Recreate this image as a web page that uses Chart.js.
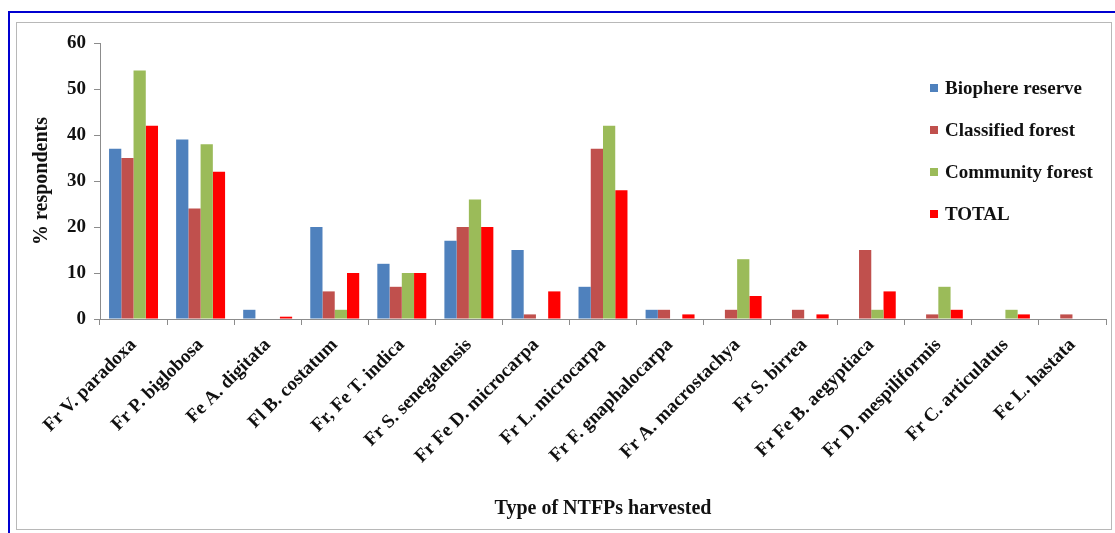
<!DOCTYPE html>
<html>
<head>
<meta charset="utf-8">
<script src="https://cdn.jsdelivr.net/npm/chart.js@4.4.1/dist/chart.umd.min.js"></script>
<style>
  html, body { margin: 0; padding: 0; background: #fff; }
  #wrap { position: relative; width: 1115px; height: 533px; overflow: hidden; }
  #blue { position: absolute; left: 8px; top: 11px; width: 1120px; height: 540px; border: 2px solid #0000d0; box-sizing: border-box; }
  #gray { position: absolute; left: 16px; top: 22px; width: 1096px; height: 508px; border: 1px solid #b8b8b8; box-sizing: border-box; }
  canvas { position: absolute; left: 0; top: 0; }
  #legend { position: absolute; left: 930px; top: 75px; font: bold 19px "Liberation Serif", "Times New Roman", serif; color: #111; }
  #legend div { height: 42px; line-height: 26px; white-space: nowrap; }
  #legend span { display: inline-block; width: 8px; height: 8px; margin-right: 7px; vertical-align: 2px; }
</style>
</head>
<body>
<div id="wrap">
  <div id="blue"></div>
  <div id="gray"></div>
  <canvas id="myChart" width="1115" height="533"></canvas>
  <div id="legend"></div>
</div>
<script>
// categories and values
const categories = [
  'Fr V. paradoxa', 'Fr P. biglobosa', 'Fe A. digitata', 'Fl B. costatum',
  'Fr, Fe T. indica', 'Fr S. senegalensis', 'Fr Fe D. microcarpa', 'Fr L. microcarpa',
  'Fr F. gnaphalocarpa', 'Fr A. macrostachya', 'Fr S. birrea', 'Fr Fe B. aegyptiaca',
  'Fr D. mespiliformis', 'Fr C. articulatus', 'Fe L. hastata'
];
const biosphere  = [37, 39, 2, 20, 12, 17, 15, 7, 2, 0, 0, 0, 0, 0, 0];
const classified = [35, 24, 0, 6, 7, 20, 1, 37, 2, 2, 2, 15, 1, 0, 1];
const community  = [54, 38, 0, 2, 10, 26, 0, 42, 0, 13, 0, 2, 7, 2, 0];
const total      = [42, 32, 0.5, 10, 10, 20, 6, 28, 1, 5, 1, 6, 2, 1, 0];
const yTicks = [0, 10, 20, 30, 40, 50, 60];

const serif = '"Liberation Serif", "Times New Roman", serif';

const datasets = [
  { label: 'Biophere reserve', data: biosphere, backgroundColor: '#4f81bd' },
  { label: 'Classified forest', data: classified, backgroundColor: '#c0504d' },
  { label: 'Community forest', data: community, backgroundColor: '#9bbb59' },
  { label: 'TOTAL', data: total, backgroundColor: '#ff0000' }
];

const ctx = document.getElementById('myChart').getContext('2d');

const myChart = new Chart(ctx, {
    type: 'bar',
    data: { labels: categories, datasets: datasets },
    options: {
        responsive: false,
        animation: false,
        categoryPercentage: 0.73,
        barPercentage: 1.0,
        layout: { padding: { left: 30, top: 43, right: 9, bottom: 12 } },
        plugins: {
            legend: { display: false },
            tooltip: { enabled: false }
        },
        scales: {
            x: {
                grid: { display: true, drawOnChartArea: false, tickLength: 6, color: '#8c8c8c' },
                border: { color: '#8c8c8c' },
                ticks: {
                    color: '#111',
                    minRotation: 45,
                    maxRotation: 45,
                    autoSkip: false,
                    padding: 9,
                    font: { family: serif, size: 19, weight: 'bold' }
                },
                title: {
                    display: true,
                    text: 'Type of NTFPs harvested',
                    color: '#111',
                    font: { family: serif, size: 20, weight: 'bold' },
                    padding: { top: 0, bottom: 0 }
                },
                afterFit: (scale) => { scale.height = 202; }
            },
            y: {
                min: 0,
                max: 60,
                afterBuildTicks: (scale) => { scale.ticks = yTicks.map(v => ({ value: v })); },
                grid: { display: true, drawOnChartArea: false, tickLength: 6, color: '#8c8c8c' },
                border: { color: '#8c8c8c' },
                ticks: {
                    color: '#111',
                    padding: 8,
                    font: { family: serif, size: 19, weight: 'bold' }
                },
                title: {
                    display: true,
                    text: '% respondents',
                    color: '#111',
                    font: { family: serif, size: 20, weight: 'bold' },
                    padding: { top: 0, bottom: 4 }
                },
                afterFit: (scale) => { scale.width = 70; }
            }
        }
    }
});

// legend drawn as html, from the datasets
const legendEl = document.getElementById('legend');
datasets.forEach(ds => {
    const row = document.createElement('div');
    const box = document.createElement('span');
    box.style.background = ds.backgroundColor;
    row.appendChild(box);
    row.appendChild(document.createTextNode(ds.label));
    legendEl.appendChild(row);
});
</script>
</body>
</html>
